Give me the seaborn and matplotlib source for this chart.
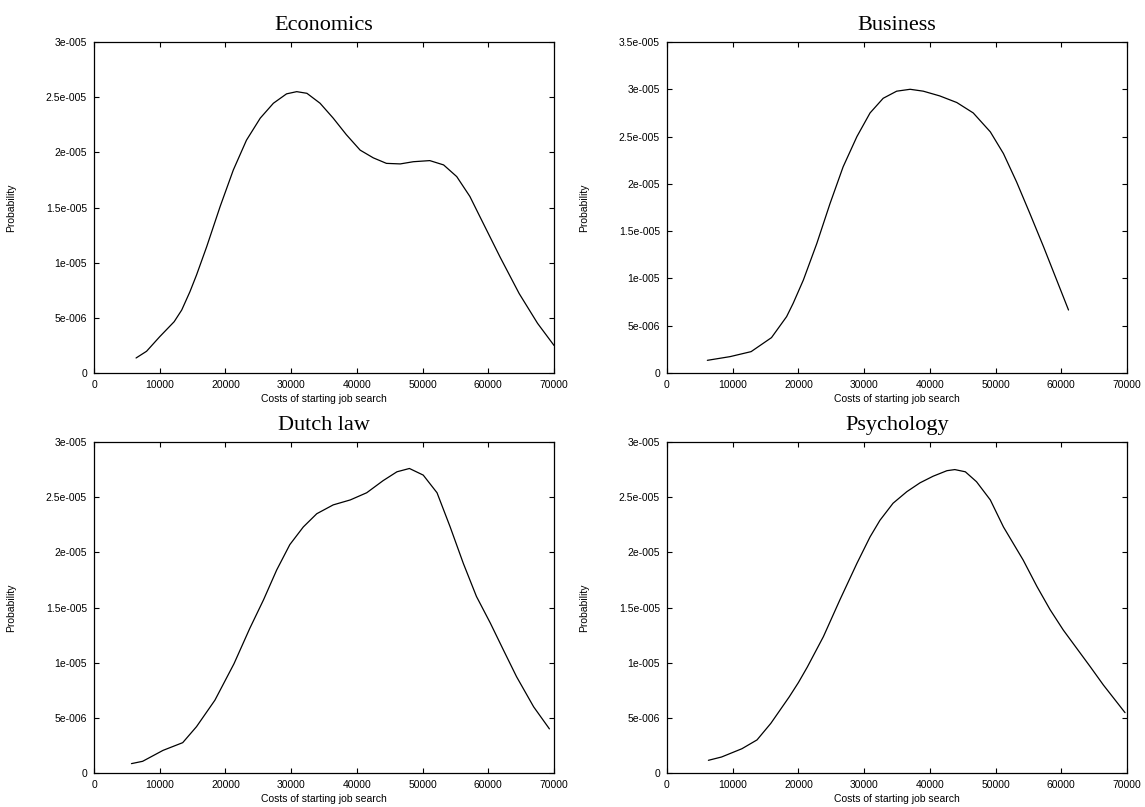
import matplotlib
matplotlib.use("Agg")
import matplotlib.pyplot as plt
import matplotlib.ticker as mticker
import pandas as pd
import seaborn as sns

# curves (x = cost, y = probability density)
econ_x = [6400, 8000, 10000, 12200, 13350, 14600, 15600, 17150, 19200, 21200,
          23200, 25300, 27300, 29300, 30850, 32400, 34400, 36400, 38400, 40500,
          42500, 44500, 46600, 48600, 51100, 53200, 55200, 57200, 58700, 61800,
          64700, 67500, 70000]
econ_y = [1.36e-6, 1.97e-6, 3.29e-6, 4.65e-6, 5.71e-6, 7.37e-6, 8.88e-6, 11.45e-6,
          15.1e-6, 18.4e-6, 21.1e-6, 23.1e-6, 24.45e-6, 25.3e-6, 25.5e-6, 25.35e-6,
          24.45e-6, 23.1e-6, 21.6e-6, 20.2e-6, 19.5e-6, 19.0e-6, 18.95e-6, 19.15e-6,
          19.25e-6, 18.86e-6, 17.8e-6, 16.0e-6, 14.2e-6, 10.5e-6, 7.2e-6, 4.5e-6,
          2.5e-6]

bus_x = [6140, 9590, 12800, 15900, 18200, 19200, 20750, 22800, 24800, 26800,
         28900, 30900, 32900, 34950, 37000, 39000, 41500, 44100, 46600, 49200,
         51200, 53200, 55200, 57300, 59300, 61100]
bus_y = [1.34e-6, 1.73e-6, 2.26e-6, 3.74e-6, 5.96e-6, 7.37e-6, 9.83e-6, 13.7e-6,
         17.9e-6, 21.8e-6, 25.0e-6, 27.5e-6, 29.05e-6, 29.8e-6, 30.0e-6, 29.8e-6,
         29.3e-6, 28.6e-6, 27.5e-6, 25.5e-6, 23.2e-6, 20.2e-6, 16.9e-6, 13.35e-6,
         9.83e-6, 6.66e-6]

law_x = [5700, 7400, 10500, 13500, 15600, 18400, 21300, 23700, 25800, 27800,
         29800, 31850, 33900, 36400, 39000, 41500, 44000, 46100, 48000, 50100,
         52200, 54200, 56200, 58200, 60300, 62300, 64300, 66900, 69300]
law_y = [0.85e-6, 1.06e-6, 2.05e-6, 2.75e-6, 4.2e-6, 6.6e-6, 9.9e-6, 13.1e-6,
         15.7e-6, 18.4e-6, 20.7e-6, 22.3e-6, 23.5e-6, 24.3e-6, 24.75e-6, 25.4e-6,
         26.5e-6, 27.3e-6, 27.6e-6, 27.0e-6, 25.4e-6, 22.3e-6, 19.0e-6, 16.0e-6,
         13.6e-6, 11.15e-6, 8.73e-6, 6.0e-6, 4.0e-6]

psy_x = [6300, 8300, 11400, 13700, 15800, 18600, 20000, 21350, 23800, 26300,
         28900, 30900, 32400, 34400, 36500, 38500, 40500, 42600, 43800, 45400,
         47100, 49200, 51200, 54200, 56300, 58300, 60300, 62350, 64400, 66400,
         68400, 69700]
psy_y = [1.15e-6, 1.45e-6, 2.2e-6, 3.0e-6, 4.5e-6, 6.9e-6, 8.2e-6, 9.6e-6,
         12.36e-6, 15.68e-6, 19.0e-6, 21.4e-6, 22.9e-6, 24.45e-6, 25.5e-6, 26.3e-6,
         26.9e-6, 27.4e-6, 27.5e-6, 27.3e-6, 26.4e-6, 24.75e-6, 22.3e-6, 19.3e-6,
         16.9e-6, 14.8e-6, 12.96e-6, 11.3e-6, 9.64e-6, 7.98e-6, 6.46e-6, 5.47e-6]

titles = ["Economics", "Business", "Dutch law", "Psychology"]
y_tops = [3e-5, 3.5e-5, 3e-5, 3e-5]
x_ticks = [0, 10000, 20000, 30000, 40000, 50000, 60000, 70000]

sns.set_style("ticks")
plt.rcParams["font.family"] = ["Liberation Sans", "DejaVu Sans"]
plt.rcParams["text.color"] = "black"
plt.rcParams["axes.labelcolor"] = "black"


def gp_fmt(v, pos):
    # gnuplot on windows writes exponents with three digits
    if v == 0:
        return "0"
    s = "%g" % v
    if "e" in s:
        m, e = s.split("e")
        s = m + "e" + e[0] + e[1:].zfill(3)
    return s


fig = plt.figure(figsize=(11.45, 8.07), dpi=100)
W, H = 1145, 807
boxes = [(94, 42), (667, 42), (94, 442), (667, 442)]
aw, ah = 460, 331

series = [(econ_x, econ_y), (bus_x, bus_y), (law_x, law_y), (psy_x, psy_y)]

for i, (xs, ys) in enumerate(series):
    l, t = boxes[i]
    ax = fig.add_axes([l / W, 1 - (t + ah) / H, aw / W, ah / H])
    df = pd.DataFrame({"cost": xs, "prob": ys})
    sns.lineplot(data=df, x="cost", y="prob", ax=ax, color="black",
                 linewidth=0.9, sort=False)
    ax.set_xlim(0, 70000)
    ax.set_ylim(0, y_tops[i])
    ax.set_xticks(x_ticks)
    ax.set_yticks([k * 5e-6 for k in range(int(round(y_tops[i] / 5e-6)) + 1)])
    ax.xaxis.set_major_formatter(mticker.FuncFormatter(lambda v, p: "%d" % v))
    ax.yaxis.set_major_formatter(mticker.FuncFormatter(gp_fmt))
    ax.tick_params(direction="in", length=3.5, width=0.8, labelsize=7.5,
                   top=True, right=True, pad=5, colors="black")
    for sp in ax.spines.values():
        sp.set_linewidth(0.9)
        sp.set_color("black")
    ax.set_title(titles[i], fontsize=16, color="black",
                 family=["Liberation Serif", "DejaVu Serif"], pad=8.5)
    ax.set_xlabel("Costs of starting job search", fontsize=7.5)
    ax.set_ylabel("Probability", fontsize=7.5)
    ax.xaxis.set_label_coords(0.5, -0.062)
    ax.yaxis.set_label_coords(-0.17, 0.5)

fig.savefig("out.png", dpi=100)
plt.close(fig)
